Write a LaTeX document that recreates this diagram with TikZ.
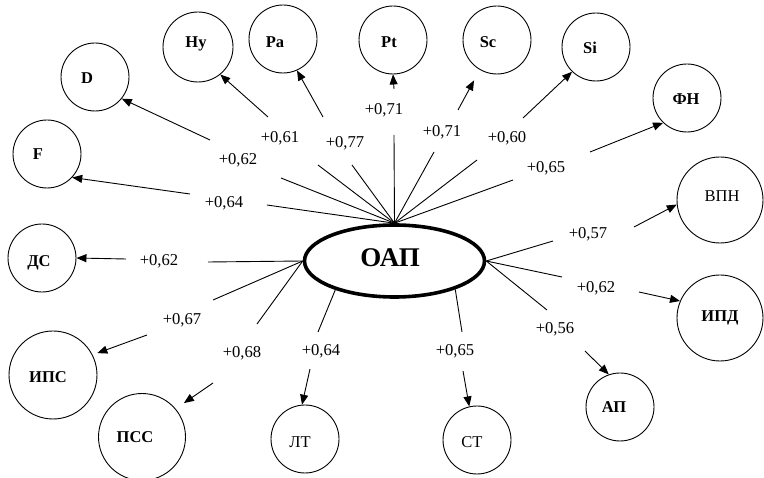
\documentclass[tikz,border=0pt]{standalone}
\usepackage{fontspec}
\setmainfont{Liberation Serif}
\usetikzlibrary{arrows.meta,shapes.geometric}
\begin{document}
\begin{tikzpicture}[x=1pt,y=-1pt,
  circ/.style={draw,circle,line width=0.9pt,inner sep=0pt,minimum size=#1},
  circ/.default=68pt,
  ctext/.style={anchor=base,font=\fontsize{16.5}{18}\selectfont\bfseries,inner sep=0pt},
  ctextn/.style={anchor=base,font=\fontsize{16.5}{18}\selectfont,inner sep=0pt},
  num/.style={anchor=base,font=\fontsize{16.6}{18}\selectfont,inner sep=0pt},
  ln/.style={line width=0.9pt},
  arr/.style={line width=0.9pt,-{Triangle[length=10pt,width=8pt]}},
]
\useasboundingbox (0,0) rectangle (764,478);

% central ellipse
\node[draw,ellipse,line width=3.6pt,minimum width=180pt,minimum height=72pt,inner sep=0pt] (E) at (394.5,261) {};
\node[anchor=base,font=\fontsize{27}{30}\selectfont\bfseries,inner sep=0pt] (tE) at (390,267) {ОАП};

% circles
\node[circ=70pt] (Hy) at (198,47) {};
\node[circ] (D) at (95,77) {};
\node[circ] (F) at (47,154) {};
\node[circ] (Pa) at (283,39) {};
\node[circ] (Pt) at (393,40) {};
\node[circ] (Sc) at (497,40) {};
\node[circ] (Si) at (596,47) {};
\node[circ] (FN) at (687,98) {};
\node[circ=86pt] (VPN) at (720,200) {};
\node[circ=86pt] (IPD) at (720,318) {};
\node[circ] (AP) at (620,407) {};
\node[circ] (ST) at (477,440) {};
\node[circ] (LT) at (305,439) {};
\node[circ=87pt] (PSS) at (142,437) {};
\node[circ=88pt] (IPS) at (53,375) {};
\node[circ] (DS) at (42,258) {};

% circle texts
\node[ctext] (tHy) at (196,48) {Hy};
\node[ctext] (tD) at (87,84) {D};
\node[ctext] (tF) at (38,160) {F};
\node[ctext] (tPa) at (275,48) {Pa};
\node[ctext] (tPt) at (389,48) {Pt};
\node[ctext] (tSc) at (488,48) {Sc};
\node[ctext] (tSi) at (590,54) {Si};
\node[ctext] (tFN) at (686,105) {ФН};
\node[ctextn] (tVPN) at (722,202) {ВПН};
\node[ctext] (tIPD) at (720,322) {ИПД};
\node[ctext] (tAP) at (614,413) {АП};
\node[ctextn] (tST) at (472,448) {СТ};
\node[ctextn] (tLT) at (300,448) {ЛТ};
\node[ctext] (tPSS) at (135,443) {ПСС};
\node[ctext] (tIPS) at (48,383) {ИПС};
\node[ctext] (tDS) at (39,267) {ДС};

% coefficient labels
\node[num] (nF) at (224,208) {+0,64};
\node[num] (nD) at (238,165) {+0,62};
\node[num] (nHy) at (280,143) {+0,61};
\node[num] (nPa) at (345,148) {+0,77};
\node[num] (nPt) at (384,115) {+0,71};
\node[num] (nSc) at (442,137) {+0,71};
\node[num] (nSi) at (507,143) {+0,60};
\node[num] (nFN) at (546,173) {+0,65};
\node[num] (nDS) at (159,266) {+0,62};
\node[num] (nIPS) at (182,325) {+0,67};
\node[num] (nPSS) at (242,358) {+0,68};
\node[num] (nLT) at (321,356) {+0,64};
\node[num] (nST) at (455,356) {+0,65};
\node[num] (nVPN) at (588,239) {+0,57};
\node[num] (nIPD) at (596,293) {+0,62};
\node[num] (nAP) at (555,334) {+0,56};

% line ends (near the labels, on the ellipse side)
\coordinate (lF) at (267,205);
\coordinate (lD) at (281,178);
\coordinate (lHy) at (318,165);
\coordinate (lPa) at (352,165);
\coordinate (lPt) at (394,135);
\coordinate (lSc) at (434,152);
\coordinate (lSi) at (477,160);
\coordinate (lFN) at (513,180);
\coordinate (lDS) at (208,262);
\coordinate (lIPS) at (213,300);
\coordinate (lPSS) at (257,324);
\coordinate (lLT) at (318,332);
\coordinate (lST) at (462,332);
\coordinate (lVPN) at (553,241);
\coordinate (lIPD) at (562,277);
\coordinate (lAP) at (547,310);

% arrow starts (beyond the labels)
\coordinate (aF) at (190,194);
\coordinate (aD) at (210,140);
\coordinate (aHy) at (268,117);
\coordinate (aPa) at (323,117);
\coordinate (aPt) at (394,89);
\coordinate (aSc) at (458,110);
\coordinate (aSi) at (523,118);
\coordinate (aFN) at (590,152);
\coordinate (aDS) at (126,259);
\coordinate (aIPS) at (147,335);
\coordinate (aPSS) at (213,383);
\coordinate (aLT) at (310,369);
\coordinate (aST) at (463,371);
\coordinate (aVPN) at (634,227);
\coordinate (aIPD) at (639,292);
\coordinate (aAP) at (585,351);

% lines from the ellipse
\foreach \n in {F,D,Hy,Pa,Pt,Sc,Si,FN} \draw[ln] (E.north) -- (l\n);
\foreach \n in {DS,IPS,PSS} \draw[ln] (E.west) -- (l\n);
\foreach \n in {VPN,IPD,AP} \draw[ln] (E.east) -- (l\n);
\draw[ln] (E.206) -- (lLT);
\draw[ln] (E.335) -- (lST);

% arrows to the circles
\draw[arr] (aF) -- (F.317);
\draw[arr] (aD) -- (D.321);
\draw[arr] (aHy) -- (Hy.309);
\draw[arr] (aPa) -- (Pa.294);
\draw[arr] (aPt) -- (Pt.270);
\draw[arr,shorten >=12pt] (aSc) -- (Sc.240);
\draw[arr] (aSi) -- (Si.226);
\draw[arr] (aFN) -- (FN.226);
\draw[arr] (aDS) -- (DS.0);
\draw[arr,shorten >=5pt] (aIPS) -- (IPS.27);
\draw[arr,shorten >=10pt] (aPSS) -- (PSS.40);
\draw[arr] (aLT) -- (LT.95);
\draw[arr] (aST) -- (ST.103);
\draw[arr] (aVPN) -- (VPN.186);
\draw[arr] (aIPD) -- (IPD.157);
\draw[arr] (aAP) -- (AP.109);
\end{tikzpicture}
\end{document}
